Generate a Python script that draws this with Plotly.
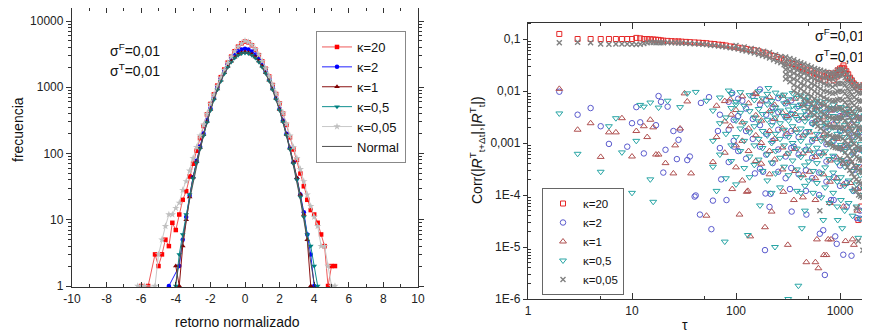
import plotly.graph_objects as go

# ---------------- LEFT PANEL DATA (histogram of normalized returns) ----------------
bins = [-6.2, -6.0, -5.8, -5.6, -5.4, -5.2, -5.0, -4.8, -4.6, -4.4,
        -4.2, -4.0, -3.8, -3.6, -3.4, -3.2, -3.0, -2.8, -2.6, -2.4,
        -2.2, -2.0, -1.8, -1.6, -1.4, -1.2, -1.0, -0.8, -0.6, -0.4,
        -0.2, 0.0, 0.2, 0.4, 0.6, 0.8, 1.0, 1.2, 1.4, 1.6,
        1.8, 2.0, 2.2, 2.4, 2.6, 2.8, 3.0, 3.2, 3.4, 3.6,
        3.8, 4.0, 4.2, 4.4, 4.6, 4.8, 5.0, 5.2, 5.4]

freq_k20 = [None, 1, None, 1, None, 3, 2, 3, 5, 4,
            9, 7, 12, 20, 27, 45, 70, 110, 170, 260,
            390, 560, 780, 1060, 1420, 1850, 2350, 2900, 3500, 4100,
            4600, 4900, 4750, 4300, 3700, 3050, 2450, 1900, 1450, 1080,
            790, 570, 400, 270, 175, 115, 80, 50, 32, 20,
            14, 12, 9, 6, 4, 1, 2, 2, None]
freq_k2 = [None, None, None, None, None, None, None, None, None, 1,
           None, None, 2, 5, 11, 23, 44, 78, 128, 200,
           320, 480, 700, 990, 1340, 1760, 2210, 2680, 3120, 3480,
           3720, 3800, 3710, 3470, 3110, 2670, 2200, 1750, 1330, 980,
           690, 475, 315, 198, 122, 74, 42, 24, 13, 6,
           3, 1, None, None, None, None, None, None, None]
freq_k1 = [None, None, None, None, None, None, None, None, None, None,
           None, 2, 1, 4, 10, 22, 44, 75, 122, 192,
           305, 460, 670, 940, 1270, 1650, 2060, 2470, 2840, 3130,
           3320, 3400, 3330, 3140, 2850, 2480, 2070, 1660, 1280, 945,
           672, 462, 306, 193, 120, 74, 43, 24, 12, 5,
           1, None, None, None, None, None, None, None, None]
freq_k05 = [None, None, None, None, None, None, None, None, None, None,
            None, 1, 3, 6, 12, 24, 42, 72, 118, 185,
            295, 445, 650, 915, 1230, 1600, 2000, 2400, 2760, 3040,
            3230, 3300, 3240, 3050, 2770, 2410, 2010, 1610, 1240, 920,
            655, 450, 300, 188, 116, 70, 40, 22, 11, 6,
            4, 2, 1, None, None, None, None, None, None]
freq_k005 = [1, 1, 1, None, None, 1, 3, 5, 8, 12,
             12, 15, 18, 28, 38, 55, 85, 125, 185, 270,
             395, 560, 770, 1050, 1400, 1830, 2330, 2890, 3480, 4080,
             4600, 5000, 4800, 4350, 3750, 3100, 2480, 1920, 1460, 1090,
             800, 580, 410, 280, 185, 125, 85, 58, 38, 24,
             16, 11, 8, 4, 4, 2, 1, 1, None]
freq_normal = [None, None, None, None, None, None, None, None, None, None,
               None, 1.1, 2.4, 5, 10, 20, 37, 65, 112, 185,
               293, 447, 655, 918, 1235, 1600, 2000, 2400, 2765, 3045,
               3235, 3300, 3235, 3045, 2765, 2400, 2000, 1600, 1235, 918,
               655, 447, 293, 185, 112, 65, 37, 20, 10, 5,
               2.4, 1.1, None, None, None, None, None, None, None]

# ---------------- RIGHT PANEL DATA (autocorrelation vs lag) ----------------
tau_k20 = [2, 3, 4, 5, 6, 7, 8, 9, 10, 11, 12, 13, 14, 15, 16, 17, 18, 19, 20, 22, 24, 26, 28, 30,
           33, 36, 40, 44, 48, 52, 57, 62, 68, 74, 80, 88, 96, 105, 115, 125, 138, 150, 165, 180,
           195, 210, 230, 250, 270, 290, 320, 350, 380, 410, 440, 480, 520, 560, 600, 650, 700,
           750, 800, 850, 900, 950, 1000, 1050, 1100, 1150, 1200, 1250, 1300, 1400, 1500, 1600,
           1700, 1800, 1900,
           620, 720, 780, 870, 930, 980, 1020, 1080, 1120, 1180, 1350, 1500, 1600, 1750, 1800]
corr_k20 = [0.125, 0.1, 0.1, 0.1, 0.1, 0.1, 0.1, 0.1, 0.1, 0.105, 0.103, 0.1, 0.1, 0.099, 0.098,
            0.097, 0.096, 0.094, 0.093, 0.092, 0.091, 0.09, 0.09, 0.089, 0.088, 0.087, 0.086,
            0.085, 0.084, 0.083, 0.081, 0.08, 0.078, 0.077, 0.075, 0.072, 0.07, 0.068, 0.066,
            0.064, 0.062, 0.061, 0.058, 0.055, 0.053, 0.05, 0.047, 0.045, 0.042, 0.039, 0.035,
            0.033, 0.031, 0.029, 0.027, 0.025, 0.024, 0.022, 0.021, 0.02, 0.019, 0.02, 0.018,
            0.02, 0.022, 0.025, 0.027, 0.028, 0.027, 0.024, 0.021, 0.018, 0.016, 0.013, 0.011,
            0.012, 0.013, 0.014, 0.012,
            0.017, 0.016, 0.022, 0.016, 0.019, 0.021, 0.023, 0.031, 0.022, 0.018, 0.014,
            3.3e-5, 6e-5, 1.9e-5, 1e-4]

tau_k2 = [2, 3, 4, 5, 6, 9, 10, 11, 12, 13, 17, 18, 19, 20, 21, 22, 25, 27, 28, 29, 34, 36, 40,
          41, 45, 46, 55, 58, 60, 67, 72, 81, 92, 96, 115, 152, 170, 190, 192, 210, 215, 330,
          360, 475, 690, 715, 820, 900, 1075, 343, 640, 930, 1290, 1450, 1560, 182]
corr_k2 = [0.0097, 0.0035, 0.0047, 0.0021, 0.00096, 0.00085, 0.0024, 0.0049, 0.0025, 0.00063,
           0.0022, 0.008, 0.0062, 0.00027, 0.00074, 0.005, 0.0017, 0.00049, 0.00115, 0.0018,
           0.00047, 0.00055, 9.3e-5, 9.8e-5, 4.2e-5, 0.0059, 0.0076, 2.2e-5, 7.8e-5, 0.0017,
           0.0002, 8e-5, 0.0091, 0.00085, 0.0065, 0.00026, 0.0107, 8.7e-6, 1.07e-4, 5.9e-5,
           1.05e-4, 1.3e-4, 8.5e-4, 4.2e-5, 2.1e-5, 2.9e-6, 8e-5, 1.6e-5, 7.1e-6, 4.8e-5,
           1.8e-5, 1.15e-5, 6.8e-6, 3.6e-5, 3.5e-5, 2.8e-4]

tau_k1 = [2, 3, 4, 5, 6, 7, 8, 10, 11, 13, 14, 15, 16, 17, 18, 21, 25, 26, 29, 32, 34, 37, 52,
          60, 78, 90, 92, 108, 115, 130, 137, 152, 190, 315, 475, 580, 620, 740, 600, 820,
          127, 285, 220, 360, 770, 1130, 1360, 1320, 700]
corr_k1 = [0.011, 0.0018, 0.0024, 0.00054, 0.0016, 0.0016, 0.003, 0.00055, 0.0017, 0.0021,
           0.0013, 0.0028, 0.002, 0.0006, 0.0006, 0.00041, 0.00026, 0.0009, 0.0019, 0.009,
           0.0063, 0.00026, 4e-5, 0.00043, 0.0064, 0.0035, 1.3e-4, 4.2e-5, 1.9e-4, 1.2e-4,
           1.6e-5, 0.009, 2.4e-5, 1.1e-5, 5.1e-6, 5.1e-6, 3.9e-6, 7e-6, 1.4e-5, 1.4e-5,
           1.15e-4, 1.15e-4, 4.8e-5, 8e-5, 1.4e-5, 1.3e-5, 1.1e-5, 1.4e-5, 7e-6]

tau_k05 = [2, 3, 5, 6, 7, 8, 10, 11, 12, 13, 15, 15, 16, 18, 22, 29, 34, 41, 52, 65, 78, 85,
           100, 130, 170, 205, 237, 318, 398, 430, 460, 220, 420, 690, 950, 1050, 1500]
corr_k05 = [0.0037, 0.00062, 0.00028, 0.0021, 0.003, 0.00066, 1.1e-4, 0.0011, 0.0054, 0.005,
            0.006, 0.0002, 7.4e-5, 0.0048, 0.0065, 0.0049, 0.009, 0.0096, 0.0065, 1.2e-4,
            1.27e-5, 0.0102, 0.0055, 1.7e-5, 6.3e-5, 0.0114, 1e-5, 1.0e-6, 1.8e-6, 2.3e-5,
            5e-5, 1.1e-4, 1.1e-4, 3.3e-5, 3.3e-5, 2.3e-5, 1.5e-5]

tau_k005 = [2, 3, 4, 5, 6, 7, 8, 9, 10, 11, 12, 13, 14, 15, 16, 17, 18, 19, 20, 22, 24, 26, 28,
            30, 33, 36, 40, 44, 48, 52, 57, 62, 68, 74, 80, 88, 96, 105, 115, 125, 138, 150,
            165, 180, 195, 210, 230, 250, 270, 290,
            100, 120, 140, 160, 185, 210, 240, 270,
            1500, 1660, 1900, 1430, 640, 1800, 1900]
corr_k005 = [0.085, 0.087, 0.085, 0.08, 0.079, 0.08, 0.08, 0.08, 0.079, 0.078, 0.079, 0.082,
             0.085, 0.087, 0.086, 0.085, 0.086, 0.085, 0.085, 0.086, 0.085, 0.085, 0.084,
             0.084, 0.083, 0.082, 0.081, 0.08, 0.079, 0.078, 0.076, 0.075, 0.073, 0.072, 0.07,
             0.068, 0.066, 0.064, 0.061, 0.059, 0.056, 0.054, 0.051, 0.048, 0.046, 0.043,
             0.04, 0.037, 0.035, 0.032,
             0.075, 0.07, 0.066, 0.062, 0.058, 0.055, 0.05, 0.046,
             1.3e-5, 8.7e-6, 1.6e-5, 5.6e-5, 5e-5, 6e-5, 5e-5]

# dense clouds: lag -> several correlation values read at that lag
cloud_k005_tau = [300, 330, 360, 390, 420, 450, 490, 530, 570, 610, 650, 700, 750, 800, 850, 900,
                  950, 1000, 1060, 1120, 1180, 1240, 1300, 1370, 1440, 1510, 1580, 1650, 1730,
                  1810, 1890, 1950]
cloud_k005_vals = [
    [0.045, 0.038, 0.031, 0.026, 0.021, 0.017],
    [0.042, 0.035, 0.029, 0.024, 0.019, 0.015],
    [0.04, 0.033, 0.027, 0.022, 0.017, 0.013, 0.01],
    [0.037, 0.031, 0.025, 0.02, 0.016, 0.012, 0.009],
    [0.035, 0.029, 0.023, 0.019, 0.014, 0.011, 0.008],
    [0.033, 0.027, 0.022, 0.017, 0.013, 0.0098, 0.0071, 0.0052],
    [0.031, 0.025, 0.02, 0.016, 0.012, 0.0088, 0.0063, 0.0045],
    [0.029, 0.023, 0.018, 0.014, 0.011, 0.0079, 0.0056, 0.0039],
    [0.027, 0.022, 0.017, 0.013, 0.0098, 0.0071, 0.005, 0.0034, 0.0024],
    [0.026, 0.02, 0.016, 0.012, 0.0089, 0.0064, 0.0045, 0.0031, 0.0021],
    [0.025, 0.019, 0.015, 0.011, 0.0082, 0.0058, 0.004, 0.0028, 0.0019],
    [0.024, 0.018, 0.014, 0.01, 0.0075, 0.0053, 0.0036, 0.0025, 0.0017, 0.0012],
    [0.023, 0.018, 0.013, 0.0098, 0.007, 0.0049, 0.0033, 0.0022, 0.0015, 0.001],
    [0.022, 0.017, 0.013, 0.0093, 0.0066, 0.0046, 0.0031, 0.0021, 0.0014, 0.00095],
    [0.022, 0.017, 0.012, 0.009, 0.0064, 0.0044, 0.003, 0.002, 0.0013, 0.00085],
    [0.023, 0.018, 0.013, 0.0092, 0.0065, 0.0045, 0.003, 0.002, 0.0013, 0.00082],
    [0.025, 0.019, 0.014, 0.0098, 0.0068, 0.0046, 0.0031, 0.002, 0.0013, 0.0008],
    [0.026, 0.02, 0.014, 0.01, 0.007, 0.0047, 0.0031, 0.002, 0.0013, 0.00078, 0.0005],
    [0.026, 0.02, 0.014, 0.0098, 0.0067, 0.0045, 0.003, 0.0019, 0.0012, 0.00074, 0.00046],
    [0.024, 0.018, 0.013, 0.009, 0.0061, 0.0041, 0.0027, 0.0017, 0.0011, 0.00066, 0.0004],
    [0.021, 0.016, 0.011, 0.0078, 0.0053, 0.0035, 0.0023, 0.0015, 0.00092, 0.00057, 0.00034],
    [0.018, 0.014, 0.0098, 0.0068, 0.0046, 0.0031, 0.002, 0.0013, 0.0008, 0.00049, 0.0003],
    [0.016, 0.012, 0.0085, 0.0059, 0.004, 0.0027, 0.0017, 0.0011, 0.0007, 0.00043, 0.00026],
    [0.014, 0.011, 0.0076, 0.0053, 0.0036, 0.0024, 0.0015, 0.00097, 0.00061, 0.00037, 0.00022, 0.00013],
    [0.013, 0.0098, 0.0069, 0.0048, 0.0032, 0.0021, 0.0014, 0.00087, 0.00054, 0.00033, 0.0002, 0.00012],
    [0.012, 0.0092, 0.0065, 0.0045, 0.003, 0.002, 0.0013, 0.00081, 0.0005, 0.0003, 0.00018, 0.0001],
    [0.012, 0.009, 0.0063, 0.0043, 0.0029, 0.0019, 0.0012, 0.00077, 0.00047, 0.00028, 0.00017, 9.5e-5],
    [0.013, 0.0093, 0.0064, 0.0044, 0.0029, 0.0019, 0.0012, 0.00076, 0.00046, 0.00027, 0.00016, 9e-5],
    [0.014, 0.0098, 0.0067, 0.0045, 0.003, 0.0019, 0.0012, 0.00075, 0.00045, 0.00026, 0.00015, 8.5e-5],
    [0.013, 0.0094, 0.0064, 0.0043, 0.0028, 0.0018, 0.0011, 0.0007, 0.00042, 0.00024, 0.00014],
    [0.012, 0.0088, 0.006, 0.004, 0.0026, 0.0017, 0.001, 0.00064, 0.00038, 0.00022, 0.00013],
    [0.011, 0.0082, 0.0056, 0.0037, 0.0024, 0.0015, 0.00095, 0.00059, 0.00035, 0.0002, 0.00012],
]

cloud_k05_tau = [60, 70, 80, 90, 100, 110, 120, 135, 150, 165, 180, 200, 220, 240, 265, 290, 320,
                 350, 385, 420, 460, 500, 550, 600, 660, 720, 790, 860, 940, 1020, 1110, 1210,
                 1320, 1440, 1570, 1710, 1860]
cloud_k05_vals = [
    [0.0042, 0.0011, 0.00035], [0.0075, 0.0024, 0.0006], [0.0031, 0.0015, 0.00021],
    [0.0088, 0.0047, 0.0009, 0.00045], [0.0062, 0.0027, 0.0013, 0.00016],
    [0.0095, 0.0038, 0.0019, 0.0007], [0.0052, 0.0024, 0.0011, 0.00033],
    [0.0083, 0.0041, 0.0016, 0.00055, 0.00022], [0.0067, 0.0031, 0.0021, 0.0009, 0.00038],
    [0.0099, 0.0045, 0.0026, 0.0012, 0.00048], [0.0072, 0.0036, 0.0017, 0.0008, 0.00029],
    [0.0088, 0.0055, 0.0028, 0.0014, 0.0006, 0.00019], [0.0064, 0.0039, 0.0022, 0.001, 0.00042],
    [0.0093, 0.0048, 0.0031, 0.0015, 0.0007, 0.00026],
    [0.0078, 0.0042, 0.0024, 0.0012, 0.00052, 0.00014],
    [0.0085, 0.0058, 0.0033, 0.0018, 0.0009, 0.00035],
    [0.0069, 0.0044, 0.0027, 0.0013, 0.00063, 0.00024],
    [0.0091, 0.0052, 0.0036, 0.0021, 0.001, 0.00046],
    [0.0074, 0.0047, 0.0029, 0.0016, 0.00078, 0.00031, 0.00012],
    [0.0082, 0.0055, 0.0034, 0.0019, 0.0011, 0.00054, 0.00022],
    [0.0068, 0.0041, 0.0026, 0.0014, 0.00072, 0.00037, 0.00015],
    [0.0076, 0.0049, 0.0031, 0.0017, 0.00089, 0.00044, 0.00019],
    [0.0058, 0.0038, 0.0023, 0.0012, 0.00066, 0.00029, 0.00011],
    [0.0065, 0.0043, 0.0027, 0.0015, 0.00081, 0.00041, 0.00017],
    [0.0052, 0.0034, 0.0021, 0.0011, 0.00058, 0.00026, 9e-5],
    [0.0061, 0.0039, 0.0024, 0.0013, 0.00069, 0.00034, 0.00014],
    [0.0047, 0.0029, 0.0018, 0.00095, 0.00049, 0.00021, 7e-5],
    [0.0055, 0.0033, 0.002, 0.0011, 0.00057, 0.00027, 0.00011],
    [0.0043, 0.0026, 0.0015, 0.00083, 0.00042, 0.00018, 6e-5],
    [0.0049, 0.003, 0.0017, 0.00092, 0.00047, 0.00022, 8e-5],
    [0.0038, 0.0022, 0.0013, 0.0007, 0.00035, 0.00015, 5e-5],
    [0.0045, 0.0027, 0.0016, 0.00085, 0.00043, 0.00019, 7e-5],
    [0.0033, 0.0019, 0.0011, 0.0006, 0.00029, 0.00012, 4e-5],
    [0.004, 0.0023, 0.0014, 0.00075, 0.00036, 0.00016, 6e-5],
    [0.0029, 0.0017, 0.00095, 0.0005, 0.00024, 0.0001, 3.5e-5],
    [0.0034, 0.002, 0.0011, 0.00062, 0.0003, 0.00013, 5e-5],
    [0.0026, 0.0015, 0.00085, 0.00045, 0.0002, 8e-5],
]

cloud_k2_tau = [70, 85, 95, 105, 125, 145, 170, 195, 225, 255, 300, 340, 400, 470, 540, 630, 740,
                870, 1000, 1160, 1350, 1560, 1800]
cloud_k2_vals = [
    [0.0035, 0.0008], [0.0062, 0.0018, 0.00043], [0.0028, 0.0011], [0.0071, 0.0033, 0.0007],
    [0.0046, 0.0017, 0.0005], [0.0081, 0.0029, 0.0012], [0.0055, 0.0022, 0.00085, 0.00032],
    [0.0068, 0.0035, 0.0015, 0.0006], [0.0049, 0.0026, 0.0011, 0.00041],
    [0.0073, 0.0039, 0.0018, 0.00075, 0.00028], [0.0058, 0.0031, 0.0014, 0.00055, 0.00021],
    [0.0066, 0.0036, 0.0017, 0.0008, 0.00033], [0.0051, 0.0028, 0.0013, 0.0006, 0.00025],
    [0.0062, 0.0034, 0.0016, 0.00074, 0.0003, 0.00012],
    [0.0045, 0.0024, 0.0011, 0.00052, 0.00021],
    [0.0053, 0.0029, 0.0014, 0.00065, 0.00027, 0.0001],
    [0.0039, 0.002, 0.00095, 0.00044, 0.00018],
    [0.0044, 0.0023, 0.0011, 0.00052, 0.00022, 8e-5],
    [0.0033, 0.0017, 0.0008, 0.00037, 0.00015],
    [0.0036, 0.0019, 0.0009, 0.00042, 0.00017, 6e-5],
    [0.0027, 0.0014, 0.00066, 0.0003, 0.00012],
    [0.003, 0.0016, 0.00075, 0.00034, 0.00014, 5e-5],
    [0.0022, 0.0011, 0.00052, 0.00024, 9e-5],
]

cloud_k1_tau = [65, 78, 88, 100, 115, 132, 155, 175, 210, 235, 280, 310, 370, 440, 510, 580, 690,
                800, 930, 1080, 1260, 1470, 1700, 1900]
cloud_k1_vals = [
    [0.0052, 0.0013], [0.0026, 0.00065], [0.0069, 0.0021], [0.0043, 0.0009, 0.00034],
    [0.0079, 0.0025, 0.0011], [0.0058, 0.0019, 0.0007], [0.0087, 0.0034, 0.0014, 0.00045],
    [0.0063, 0.0027, 0.001, 0.0004], [0.0076, 0.0041, 0.0017, 0.0007, 0.00025],
    [0.0054, 0.0029, 0.0012, 0.00048], [0.0081, 0.0038, 0.0019, 0.00082, 0.00031],
    [0.0061, 0.0033, 0.0015, 0.00062], [0.0071, 0.0036, 0.0018, 0.00077, 0.00029],
    [0.0056, 0.003, 0.0014, 0.00063, 0.00024, 9e-5],
    [0.0065, 0.0034, 0.0016, 0.00071, 0.00028],
    [0.0048, 0.0026, 0.0012, 0.00054, 0.00021, 8e-5],
    [0.0057, 0.0031, 0.0014, 0.00063, 0.00025],
    [0.0042, 0.0022, 0.001, 0.00046, 0.00018, 7e-5],
    [0.0049, 0.0026, 0.0012, 0.00053, 0.00021],
    [0.0037, 0.0019, 0.00088, 0.0004, 0.00016, 6e-5],
    [0.0041, 0.0021, 0.00097, 0.00044, 0.00017],
    [0.0031, 0.0016, 0.00074, 0.00033, 0.00013, 5e-5],
    [0.0035, 0.0018, 0.00082, 0.00037, 0.00014],
    [0.0026, 0.0013, 0.0006, 0.00027, 0.0001],
]

kappa_labels = ["κ=20", "κ=2", "κ=1", "κ=0,5", "κ=0,05"]
left_xticks = [-10, -8, -6, -4, -2, 0, 2, 4, 6, 8, 10]
left_xticktext = ["-10", "-8", "-6", "-4", "-2", "0", "2", "4", "6", "8", "10"]


def merge(taus, vals, cloud_tau, cloud_vals):
    xs, ys = list(taus), list(vals)
    for t, vs in zip(cloud_tau, cloud_vals):
        for v in vs:
            xs.append(t)
            ys.append(v)
    return xs, ys


FONT = "Liberation Sans, Arial, sans-serif"
OFF = 8                     # page body margin
W, H = 870 - OFF, 334 - OFF


def px(x):
    return (x - OFF) / W


def py(y):
    return min(1.0, 1 - (y - OFF) / H)


fig = go.Figure()

# ---------------- left panel traces ----------------
left_styles = [
    (freq_k20, kappa_labels[0], "rgba(235,60,60,0.85)", "#FF0000", "square", 4.5),
    (freq_k2, kappa_labels[1], "#2020FF", "#0000FF", "circle", 4.5),
    (freq_k1, kappa_labels[2], "#8B1010", "#800000", "triangle-up", 5),
    (freq_k05, kappa_labels[3], "#109090", "#008080", "triangle-down", 5),
    (freq_k005, kappa_labels[4], "#C8C8C8", "#C0C0C0", "star", 5.5),
]
for ys, name, lc, mc, sym, ms in left_styles:
    fig.add_trace(go.Scatter(
        x=bins, y=ys, name=name, mode="lines+markers", connectgaps=True,
        line=dict(color=lc, width=1),
        marker=dict(color=mc, symbol=sym, size=ms, line=dict(width=0)),
        xaxis="x", yaxis="y", legend="legend"))
fig.add_trace(go.Scatter(
    x=bins, y=freq_normal, name="Normal", mode="lines", connectgaps=True,
    line=dict(color="#505050", width=1), xaxis="x", yaxis="y", legend="legend"))

# ---------------- right panel traces ----------------
x20, y20 = list(tau_k20), list(corr_k20)
x2, y2 = merge(tau_k2, corr_k2, cloud_k2_tau, cloud_k2_vals)
x1, y1 = merge(tau_k1, corr_k1, cloud_k1_tau, cloud_k1_vals)
x05, y05 = merge(tau_k05, corr_k05, cloud_k05_tau, cloud_k05_vals)
x005, y005 = merge(tau_k005, corr_k005, cloud_k005_tau, cloud_k005_vals)

right_styles = [
    (x20, y20, kappa_labels[0], "rgb(230,40,40)", "square-open", 5, 1),
    (x2, y2, kappa_labels[1], "rgb(90,90,205)", "circle-open", 5.5, 1),
    (x1, y1, kappa_labels[2], "rgb(175,80,80)", "triangle-up-open", 6, 1),
    (x05, y05, kappa_labels[3], "rgb(40,165,165)", "triangle-down-open", 6, 1),
    (x005, y005, kappa_labels[4], "rgb(128,128,128)", "x-thin-open", 5, 1.4),
]
for xs, ys, name, c, sym, ms, lw in right_styles:
    fig.add_trace(go.Scatter(
        x=xs, y=ys, name=name, mode="markers",
        marker=dict(color=c, symbol=sym, size=ms, line=dict(color=c, width=lw)),
        xaxis="x2", yaxis="y2", legend="legend2"))

AX = dict(showgrid=False, zeroline=False, linecolor="#333", linewidth=1.3,
          tickcolor="#333", automargin=False,
          tickfont=dict(family=FONT, size=12, color="#222"))

log_minor_left = [m * 10 ** e for e in range(0, 5) for m in range(2, 10)]
log_minor_right = [m * 10.0 ** e for e in range(-6, 0) for m in range(2, 10)]

fig.update_layout(
    width=W, height=H, margin=dict(l=0, r=0, t=0, b=0, pad=0, autoexpand=False),
    paper_bgcolor="white", plot_bgcolor="white",
    font=dict(family=FONT, color="#222"),
    showlegend=True,
    xaxis=dict(AX, domain=[px(72), px(418)], anchor="y", range=[-10, 10],
               tickvals=left_xticks, ticktext=left_xticktext, ticks="inside", ticklen=5,
               mirror="ticks",
               minor=dict(tickvals=list(range(-9, 10, 2)), ticks="inside", ticklen=3,
                          tickcolor="#333")),
    yaxis=dict(AX, domain=[py(287), py(OFF)], anchor="x", type="log",
               range=[-0.015, 4 + (21 - OFF) / 66.25], tickvals=[1, 10, 100, 1000, 10000],
               ticktext=["1", "10", "100", "1000", "10000"], ticks="outside", ticklen=5,
               mirror="ticks",
               minor=dict(tickvals=log_minor_left, ticks="outside", ticklen=2.5,
                          tickcolor="#333")),
    xaxis2=dict(AX, domain=[px(528), 1.0], anchor="y2", type="log",
                range=[0, (870 - 528) / 104.0], tickvals=[1, 10, 100, 1000],
                ticktext=["1", "10", "100", "1000"], ticks="inside", ticklen=6,
                mirror="ticks",
                minor=dict(tickvals=[5, 50, 500], ticks="inside", ticklen=3,
                           tickcolor="#333")),
    yaxis2=dict(AX, domain=[py(299), py(23)], anchor="x2", type="log",
                range=[-6, -1 + 16 / 52.0],
                tickvals=[1e-6, 1e-5, 1e-4, 1e-3, 1e-2, 1e-1],
                ticktext=["1E-6", "1E-5", "1E-4", "0,001", "0,01", "0,1"],
                ticks="outside", ticklen=4,
                minor=dict(tickvals=log_minor_right, ticks="inside", ticklen=3,
                           tickcolor="#333")),
    legend=dict(x=px(316), y=py(31), xanchor="left", yanchor="top",
                bgcolor="white", bordercolor="#888", borderwidth=1,
                font=dict(family=FONT, size=13, color="#111"), tracegroupgap=0,
                itemwidth=30),
    legend2=dict(x=px(542), y=py(188), xanchor="left", yanchor="top",
                 bgcolor="white", bordercolor="#666", borderwidth=1,
                 font=dict(family=FONT, size=11.5, color="#111"), tracegroupgap=0,
                 itemwidth=30),
)

ann_font = dict(family=FONT, size=14, color="#111")
annotations = [
    dict(text="σ<sup>F</sup>=0,01", x=px(108), y=py(50), xanchor="left", yanchor="middle"),
    dict(text="σ<sup>T</sup>=0,01", x=px(108), y=py(70), xanchor="left", yanchor="middle"),
    dict(text="σ<sup>F</sup>=0,01", x=px(867), y=py(35), xanchor="right", yanchor="middle"),
    dict(text="σ<sup>T</sup>=0,01", x=px(867), y=py(56), xanchor="right", yanchor="middle"),
    dict(text="retorno normalizado", x=px(238), y=py(322), xanchor="center", yanchor="middle"),
    dict(text="frecuencia", x=px(18), y=py(130), xanchor="center", yanchor="middle",
         textangle=-90),
    dict(text="τ", x=px(685), y=py(325), xanchor="center", yanchor="middle"),
    dict(text="Corr(|<i>R</i><sup>T</sup><sub>t+Δt</sub>|,|<i>R</i><sup>T</sup><sub>t</sub>|)",
         x=px(477), y=py(150), xanchor="center", yanchor="middle", textangle=-90),
]
for a in annotations:
    a.update(xref="paper", yref="paper", showarrow=False, font=ann_font)
fig.update_layout(annotations=annotations)

fig.write_html("out.html")
